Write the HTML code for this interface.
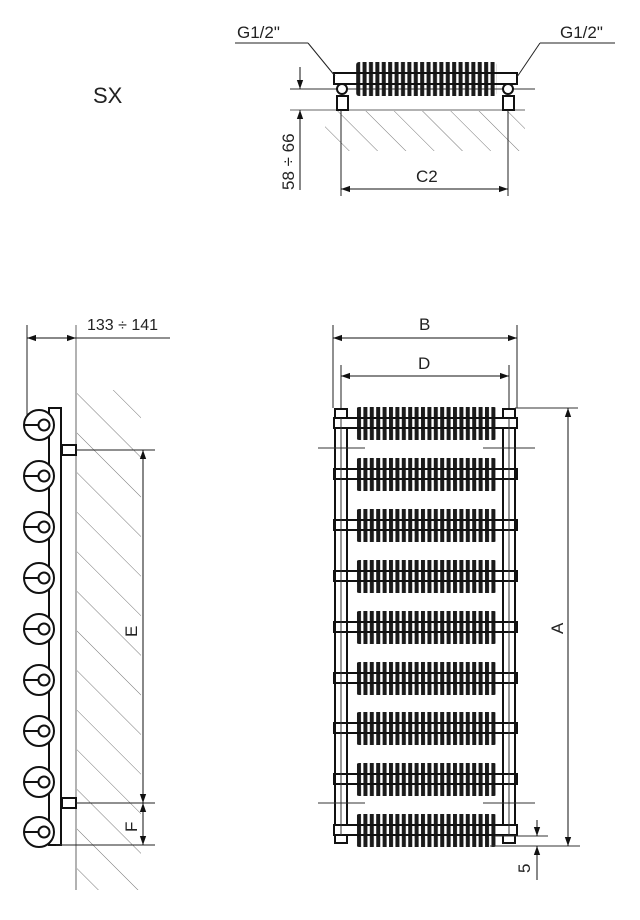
<!DOCTYPE html>
<html><head><meta charset="utf-8"><style>
body{margin:0;background:#fff}
svg{display:block;font-family:"Liberation Sans",sans-serif}
</style></head><body>
<svg width="640" height="920" viewBox="0 0 640 920" xmlns="http://www.w3.org/2000/svg">
<defs>
<pattern id="coil" x="356" y="0" width="6.4" height="1000" patternUnits="userSpaceOnUse">
<line x1="2" y1="0" x2="4.4" y2="1000" stroke="#1a1a1a" stroke-width="4"/>
</pattern>
<pattern id="hatch" width="28" height="28" patternUnits="userSpaceOnUse" patternTransform="rotate(-45)">
<line x1="0" y1="0" x2="0" y2="28" stroke="#777" stroke-width="1"/>
</pattern>
<pattern id="hatch2" width="20" height="20" patternUnits="userSpaceOnUse" patternTransform="rotate(-45)">
<line x1="0" y1="0" x2="0" y2="20" stroke="#777" stroke-width="1"/>
</pattern>
<marker id="ar" viewBox="0 0 10 10" refX="10" refY="5" markerWidth="9" markerHeight="9" orient="auto-start-reverse" markerUnits="userSpaceOnUse"><path d="M0,1.5 L10,5 L0,8.5z" fill="#111"/></marker>
</defs>

<text x="93" y="103" font-size="22" fill="#222">SX</text>

<!-- TOP VIEW -->
<rect x="325" y="111" width="200" height="40" fill="url(#hatch2)"/>
<line x1="290" y1="110" x2="525" y2="110" stroke="#666"/>
<line x1="290" y1="89" x2="535" y2="89" stroke="#333"/>
<rect x="356" y="62" width="141" height="34" rx="3" fill="url(#coil)"/>
<rect x="334" y="73" width="183" height="11" fill="none" stroke="#111" stroke-width="2"/>
<rect x="337" y="96" width="11" height="14" fill="#fff" stroke="#111" stroke-width="2"/>
<rect x="503" y="96" width="11" height="14" fill="#fff" stroke="#111" stroke-width="2"/>
<circle cx="342" cy="89" r="5" fill="#fff" stroke="#111" stroke-width="2"/>
<circle cx="508" cy="89" r="5" fill="#fff" stroke="#111" stroke-width="2"/>
<line x1="235" y1="43" x2="308" y2="43" stroke="#222"/>
<line x1="308" y1="43" x2="335" y2="76" stroke="#222"/>
<line x1="540" y1="43" x2="615" y2="43" stroke="#222"/>
<line x1="540" y1="43" x2="517" y2="77" stroke="#222"/>
<text x="237" y="38" font-size="17" fill="#222">G1/2"</text>
<text x="560" y="38" font-size="17" fill="#222">G1/2"</text>
<line x1="300" y1="67" x2="300" y2="89" stroke="#111" marker-end="url(#ar)"/>
<line x1="300" y1="190" x2="300" y2="110" stroke="#111" marker-end="url(#ar)"/>
<text transform="translate(294,190) rotate(-90)" font-size="17" fill="#222">58 ÷ 66</text>
<line x1="341" y1="110" x2="341" y2="196" stroke="#222"/>
<line x1="508" y1="110" x2="508" y2="196" stroke="#222"/>
<line x1="341" y1="189" x2="508" y2="189" stroke="#111" marker-start="url(#ar)" marker-end="url(#ar)"/>
<text x="416" y="182" font-size="17" fill="#222">C2</text>

<!-- SIDE VIEW -->
<rect x="77" y="390" width="64" height="500" fill="url(#hatch)"/>
<line x1="76" y1="325" x2="76" y2="890" stroke="#666"/>
<line x1="27" y1="325" x2="27" y2="420" stroke="#222"/>
<line x1="27" y1="338" x2="76" y2="338" stroke="#111" marker-start="url(#ar)" marker-end="url(#ar)"/>
<line x1="76" y1="338" x2="170" y2="338" stroke="#222"/>
<text x="87" y="330" font-size="16" fill="#222">133 ÷ 141</text>
<rect x="49" y="408" width="12" height="437" fill="#fff" stroke="#111" stroke-width="2"/>
<g fill="#fff" stroke="#111" stroke-width="2">
<g id="c"><circle cx="39" cy="425" r="15"/><line x1="24" y1="425" x2="39" y2="425"/><circle cx="44" cy="425" r="5.5"/></g>
<use href="#c" y="51"/><use href="#c" y="102"/><use href="#c" y="153"/><use href="#c" y="204"/><use href="#c" y="255"/><use href="#c" y="306"/><use href="#c" y="357"/><use href="#c" y="407"/>
<rect x="62" y="445" width="14" height="10"/>
<rect x="62" y="798" width="14" height="10"/>
</g>
<line x1="76" y1="450" x2="155" y2="450" stroke="#222"/>
<line x1="76" y1="803" x2="155" y2="803" stroke="#222"/>
<line x1="56" y1="845" x2="155" y2="845" stroke="#222"/>
<line x1="143" y1="450" x2="143" y2="803" stroke="#111" marker-start="url(#ar)" marker-end="url(#ar)"/>
<line x1="143" y1="803" x2="143" y2="845" stroke="#111" marker-start="url(#ar)" marker-end="url(#ar)"/>
<text transform="translate(137,637) rotate(-90)" font-size="17" fill="#222">E</text>
<text transform="translate(137,832) rotate(-90)" font-size="17" fill="#222">F</text>

<!-- FRONT VIEW -->
<line x1="333" y1="325" x2="333" y2="408" stroke="#222"/>
<line x1="517" y1="325" x2="517" y2="408" stroke="#222"/>
<line x1="333" y1="338" x2="517" y2="338" stroke="#111" marker-start="url(#ar)" marker-end="url(#ar)"/>
<text x="419" y="330" font-size="17" fill="#222">B</text>
<line x1="341" y1="365" x2="341" y2="408" stroke="#222"/>
<line x1="509" y1="365" x2="509" y2="408" stroke="#222"/>
<line x1="341" y1="376" x2="509" y2="376" stroke="#111" marker-start="url(#ar)" marker-end="url(#ar)"/>
<text x="418" y="369" font-size="17" fill="#222">D</text>

<g id="row">
<rect x="356" y="407" width="141" height="33" rx="3" fill="url(#coil)"/>
<rect x="334" y="418" width="183" height="10" fill="none" stroke="#111" stroke-width="2"/>
</g>
<use href="#row" y="51"/><use href="#row" y="102"/><use href="#row" y="153"/><use href="#row" y="204"/><use href="#row" y="255"/><use href="#row" y="305"/><use href="#row" y="356"/><use href="#row" y="407"/>
<g fill="none" stroke="#111" stroke-width="2">
<rect x="335" y="409" width="12" height="9"/><rect x="503" y="409" width="12" height="9"/>
<rect x="335" y="835" width="12" height="8"/><rect x="503" y="835" width="12" height="8"/>
<line x1="335" y1="428" x2="335" y2="825"/><line x1="347" y1="428" x2="347" y2="825"/>
<line x1="503" y1="428" x2="503" y2="825"/><line x1="515" y1="428" x2="515" y2="825"/>
</g>
<line x1="341" y1="418" x2="341" y2="835" stroke="#333"/>
<line x1="509" y1="418" x2="509" y2="835" stroke="#333"/>
<line x1="318" y1="448" x2="365" y2="448" stroke="#333"/><line x1="483" y1="448" x2="535" y2="448" stroke="#333"/>
<line x1="318" y1="803" x2="365" y2="803" stroke="#333"/><line x1="483" y1="803" x2="535" y2="803" stroke="#333"/>
<line x1="515" y1="408" x2="578" y2="408" stroke="#333"/>
<line x1="490" y1="846" x2="580" y2="846" stroke="#333"/>
<line x1="495" y1="836" x2="548" y2="836" stroke="#333"/>
<line x1="568" y1="408" x2="568" y2="846" stroke="#111" marker-start="url(#ar)" marker-end="url(#ar)"/>
<text transform="translate(563,634) rotate(-90)" font-size="17" fill="#222">A</text>
<line x1="537" y1="820" x2="537" y2="836" stroke="#111" marker-end="url(#ar)"/>
<line x1="537" y1="880" x2="537" y2="846" stroke="#111" marker-end="url(#ar)"/>
<text transform="translate(530,873) rotate(-90)" font-size="17" fill="#222">5</text>
</svg>
</body></html>
